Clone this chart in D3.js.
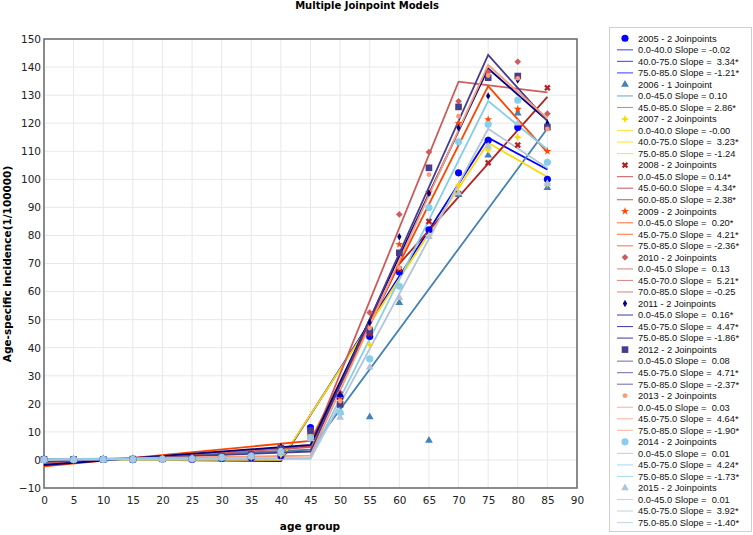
<!DOCTYPE html>
<html><head><meta charset="utf-8">
<script src="https://cdn.jsdelivr.net/npm/d3@7"></script>
<style>body{margin:0;background:#fff}</style></head>
<body><svg id="c" width="753" height="535"></svg>
<script>
// ---------- DATA ----------
const ages = [0,5,10,15,20,25,30,35,40,45,50,55,60,65,70,75,80,85];
const years = ["2005","2006","2007","2008","2009","2010","2011","2012","2013","2014","2015"];
const headers = ["2005 - 2 Joinpoints","2006 - 1 Joinpoint","2007 - 2 Joinpoints","2008 - 2 Joinpoints","2009 - 2 Joinpoints","2010 - 2 Joinpoints","2011 - 2 Joinpoints","2012 - 2 Joinpoints","2013 - 2 Joinpoints","2014 - 2 Joinpoints","2015 - 2 Joinpoints"];

const obs2005 = [0.2,0.1,0.2,0.1,0.3,0.2,0.5,0.8,1.5,11.5,22.5,44,67,82,102.3,113.9,118.5,100];
const obs2006 = [0.2,0.2,0.1,0.3,0.2,0.4,0.6,0.9,2.0,9.5,17,15.3,56,6.9,94.5,108.6,123.5,97];
const obs2007 = [0.1,0.1,0.2,0.2,0.3,0.3,0.7,1.0,1.8,9,20,41,62,80,98,110.5,115,98.4];
const obs2008 = [0.3,0.2,0.2,0.3,0.4,0.5,1.0,1.5,3.0,9.5,21,45,68,85,94.9,105.9,112.2,132.6];
const obs2009 = [0.2,0.2,0.3,0.3,0.5,0.6,1.2,1.8,4.0,10,22,47,76.8,95.2,120,121.3,125,110];
const obs2010 = [0.2,0.2,0.3,0.4,0.5,0.7,1.3,2.0,4.5,10.5,24,52.5,87.5,109.7,127.8,138.2,141.9,123.4];
const obs2011 = [0.3,0.2,0.3,0.4,0.5,0.7,1.4,2.0,4.8,10,23.3,49,79.5,95,118.4,129.7,135.4,120];
const obs2012 = [0.2,0.2,0.2,0.3,0.4,0.6,1.2,1.9,4.2,10.5,19.8,46,73.8,104.1,125.8,136.2,136.8,118.6];
const obs2013 = [0.1,0.1,0.2,0.3,0.3,0.5,1.0,1.6,3.5,8.5,21,47,68.5,101.7,122.5,137,136,118];
const obs2014 = [0.1,0.1,0.2,0.2,0.3,0.4,0.9,1.4,3.0,8,16.9,36,61.9,89.9,113.4,119.6,128.2,106.1];
const obs2015 = [0.1,0.1,0.1,0.2,0.3,0.4,0.8,1.2,2.8,7.5,15.1,33,57.8,79.5,95,111.8,120,98.4];
const observed = [obs2005,obs2006,obs2007,obs2008,obs2009,obs2010,obs2011,obs2012,obs2013,obs2014,obs2015];

// fitted joinpoint models: ages at segment ends and fitted values there
const fitAges = [[0,40,75,85],[0,45,85],[0,40,75,85],[0,45,60,85],[0,45,75,85],[0,45,70,85],[0,45,75,85],[0,45,75,85],[0,45,75,85],[0,45,75,85],[0,45,75,85]];
const fitVals = [
  [0.4,-0.4,114.8,103.5],
  [-0.8,3.7,118.1],
  [0.0,0.0,113,100.8],
  [-1.5,4.8,69.9,129.4],
  [-2.3,6.8,133.2,109.6],
  [-1.3,4.6,134.8,131],
  [-1.8,5.4,139.5,120.9],
  [-0.6,3.0,144.3,120.8],
  [0.2,1.5,140.7,121.7],
  [0.3,0.7,127.9,110.6],
  [0.0,0.4,118,104]
];
const segLabels = [
  ["0.0-40.0 Slope = -0.02","40.0-75.0 Slope =  3.34*","75.0-85.0 Slope = -1.21*"],
  ["0.0-45.0 Slope = 0.10","45.0-85.0 Slope = 2.86*"],
  ["0.0-40.0 Slope = -0.00","40.0-75.0 Slope =  3.23*","75.0-85.0 Slope = -1.24"],
  ["0.0-45.0 Slope = 0.14*","45.0-60.0 Slope = 4.34*","60.0-85.0 Slope = 2.38*"],
  ["0.0-45.0 Slope =  0.20*","45.0-75.0 Slope =  4.21*","75.0-85.0 Slope = -2.36*"],
  ["0.0-45.0 Slope =  0.13","45.0-70.0 Slope =  5.21*","70.0-85.0 Slope = -0.25"],
  ["0.0-45.0 Slope =  0.16*","45.0-75.0 Slope =  4.47*","75.0-85.0 Slope = -1.86*"],
  ["0.0-45.0 Slope =  0.08","45.0-75.0 Slope =  4.71*","75.0-85.0 Slope = -2.37*"],
  ["0.0-45.0 Slope =  0.03","45.0-75.0 Slope =  4.64*","75.0-85.0 Slope = -1.90*"],
  ["0.0-45.0 Slope =  0.01","45.0-75.0 Slope =  4.24*","75.0-85.0 Slope = -1.73*"],
  ["0.0-45.0 Slope =  0.01","45.0-75.0 Slope =  3.92*","75.0-85.0 Slope = -1.40*"]
];
const xTicks = d3.range(0,91,5);
const yTicks = d3.range(-10,151,10);

// ---------- STYLE ----------
const colors = ["#0000ff","#4682b4","#ffd700","#b22222","#ff4500","#cd5c5c","#000080","#483d8b","#fa9a7a","#87ceeb","#b0c4de"];
const star4 = {draw(ctx,size){const r=Math.sqrt(size)/1.2, s=r*0.3;ctx.moveTo(0,-r);ctx.lineTo(s,-s);ctx.lineTo(r,0);ctx.lineTo(s,s);ctx.lineTo(0,r);ctx.lineTo(-s,s);ctx.lineTo(-r,0);ctx.lineTo(-s,-s);ctx.closePath();}};
const shapes = [d3.symbolCircle,d3.symbolTriangle,star4,d3.symbolCross,d3.symbolStar,d3.symbolSquare,d3.symbolDiamond,d3.symbolSquare,d3.symbolCircle,d3.symbolCircle,d3.symbolTriangle];
const sizes = [40,26,24,26,20,22,16,44,18,40,26];
const rot = [0,0,0,45,0,45,0,0,0,0,0];

const svg = d3.select("#c");
const m = {l:44,t:39,r:577,b:488};
const x = d3.scaleLinear().domain([0,90]).range([m.l,m.r]);
const y = d3.scaleLinear().domain([-10,150]).range([m.b,m.t]);
const font = "'DejaVu Sans', Verdana, sans-serif";

// grid
svg.append("g").selectAll("line").data(xTicks.slice(1,-1)).join("line")
  .attr("x1",d=>x(d)).attr("x2",d=>x(d)).attr("y1",m.t).attr("y2",m.b).attr("stroke","#e8e8e8");
svg.append("g").selectAll("line").data(yTicks.slice(1,-1)).join("line")
  .attr("y1",d=>y(d)).attr("y2",d=>y(d)).attr("x1",m.l).attr("x2",m.r).attr("stroke","#e8e8e8");

// axes
const xa = svg.append("g").attr("transform",`translate(0,${m.b})`).call(d3.axisBottom(x).tickValues(xTicks).tickSize(0).tickPadding(9));
const ya = svg.append("g").attr("transform",`translate(${m.l},0)`).call(d3.axisLeft(y).tickValues(yTicks).tickSize(0).tickPadding(3));
[xa,ya].forEach(a=>{a.select(".domain").remove();a.selectAll("text").attr("font-family",font).attr("font-size",10.5).attr("fill","#222");});

// frame
svg.append("rect").attr("x",m.l).attr("y",m.t).attr("width",m.r-m.l).attr("height",m.b-m.t).attr("fill","none").attr("stroke","#6e6e6e").attr("stroke-width",1.6);

// lines
const line = d3.line().x(d=>x(d[0])).y(d=>y(d[1]));
years.forEach((yr,i)=>{
  svg.append("path").datum(fitAges[i].map((a,j)=>[a,fitVals[i][j]]))
    .attr("d",line).attr("fill","none").attr("stroke",colors[i]).attr("stroke-width",1.8);
});
// points
years.forEach((yr,i)=>{
  svg.append("g").selectAll("path").data(ages.map((a,j)=>[a,observed[i][j]])).join("path")
    .attr("transform",d=>`translate(${x(d[0])},${y(d[1])}) rotate(${rot[i]})`)
    .attr("d",d3.symbol().type(shapes[i]).size(sizes[i]))
    .attr("fill",colors[i]);
});

// titles
svg.append("text").attr("x",367).attr("y",9).attr("text-anchor","middle").attr("font-family",font).attr("font-weight","bold").attr("font-size",10).text("Multiple Joinpoint Models");
svg.append("text").attr("x",310).attr("y",530).attr("text-anchor","middle").attr("font-family",font).attr("font-weight","bold").attr("font-size",10.5).text("age group");
svg.append("text").attr("transform","translate(11,264) rotate(-90)").attr("text-anchor","middle").attr("font-family",font).attr("font-weight","bold").attr("font-size",10.5).text("Age-specific incidence(1/100000)");

// legend
const lg = svg.append("g");
lg.append("rect").attr("x",609.5).attr("y",27.5).attr("width",142).attr("height",504).attr("fill","#fff").attr("stroke","#cfcfcf");
let row=0; const r0=38.3, dy=11.53;
const lfont="'Liberation Sans', Arial, sans-serif";
years.forEach((yr,i)=>{
  const yy=r0+row*dy;
  lg.append("path").attr("transform",`translate(625,${yy}) rotate(${rot[i]})`).attr("d",d3.symbol().type(shapes[i]).size(sizes[i])).attr("fill",colors[i]);
  lg.append("text").attr("x",638).attr("y",yy+3.3).attr("font-family",lfont).attr("font-size",9.3).attr("fill","#111").text(headers[i]);
  row++;
  segLabels[i].forEach(s=>{
    const y2=r0+row*dy;
    lg.append("line").attr("x1",617).attr("x2",633).attr("y1",y2).attr("y2",y2).attr("stroke",colors[i]).attr("stroke-width",1.1).attr("opacity",0.7);
    lg.append("text").attr("x",638).attr("y",y2+3.3).attr("font-family",lfont).attr("font-size",9.3).attr("fill","#111").style("white-space","pre").text(s);
    row++;
  });
});
</script></body></html>
